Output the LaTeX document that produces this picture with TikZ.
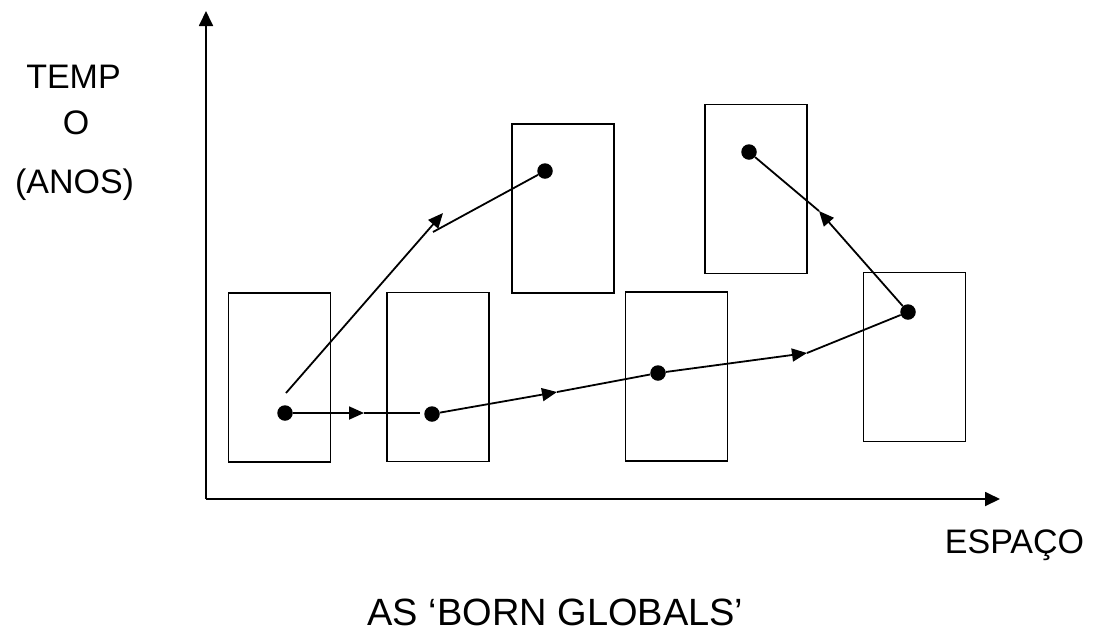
\documentclass[tikz,border=0pt]{standalone}
\usepackage{fontspec}
\setmainfont{Liberation Sans}
\usetikzlibrary{arrows.meta}
\begin{document}
\begin{tikzpicture}[x=1pt,y=-1pt,
  box/.style={draw, line width=1.6pt, rectangle, inner sep=0pt, minimum width=102pt, minimum height=169pt},
  dot/.style={circle, fill=black, inner sep=0pt, minimum size=15.5pt},
  conn/.style={line width=1.8pt},
  arr/.style={-{Triangle[length=15pt,width=13pt]}},
  axis/.style={line width=1.8pt, -{Triangle[length=15pt,width=14pt]}},
  lab/.style={inner sep=0pt, anchor=base, font=\fontsize{34}{40}\selectfont},
  ttl/.style={inner sep=0pt, anchor=base, font=\fontsize{38}{44}\selectfont}]
\useasboundingbox (0,0) rectangle (1103,638);
% axes
\coordinate (O) at (206,499);
\coordinate (ytop) at (206,11);
\coordinate (xend) at (1000,499);
\draw[axis] (O) -- (ytop);
\draw[axis] (O) -- (xend);
% boxes
\node[box] (b1) at (279.5,377.5) {};
\node[box] (b2) at (438,377) {};
\node[box] (b3) at (563,208.5) {};
\node[box] (b4) at (756,189) {};
\node[box] (b5) at (676.5,376.5) {};
\node[box] (b6) at (914.5,357) {};
% dots
\node[dot] (d1) at (285,413) {};
\node[dot] (d2) at (432,414) {};
\node[dot] (d3) at (545,171) {};
\node[dot] (d4) at (658,373) {};
\node[dot] (d5) at (908,312) {};
\node[dot] (d6) at (749,152) {};
% bend points
\coordinate (k4) at (364,413);
\coordinate (e2) at (420,413);
\coordinate (s1) at (286,393);
\coordinate (t1) at (443,213);
\coordinate (u1) at (433,232);
\coordinate (k3) at (557,392);
\coordinate (k1) at (807,353);
\coordinate (k2) at (819,211);
% connectors
\draw[conn,arr] (d1) -- (k4);
\draw[conn] (k4) -- (e2);
\draw[conn,arr] (s1) -- (t1);
\draw[conn] (u1) -- (d3);
\draw[conn,arr] (d2) -- (k3);
\draw[conn] (k3) -- (d4);
\draw[conn,arr] (d4) -- (k1);
\draw[conn] (k1) -- (d5);
\draw[conn,arr] (d5) -- (k2);
\draw[conn] (k2) -- (d6);
% labels
\node[lab] (temp) at (73.5,88) {TEMP};
\node[lab] (tempo) at (76,134) {O};
\node[lab] (anos) at (74.5,193) {(ANOS)};
\node[lab] (espaco) at (1014.5,553) {ESPAÇO};
\node[ttl] (title) at (555.5,625) {AS ‘BORN GLOBALS’};
\end{tikzpicture}
\end{document}
